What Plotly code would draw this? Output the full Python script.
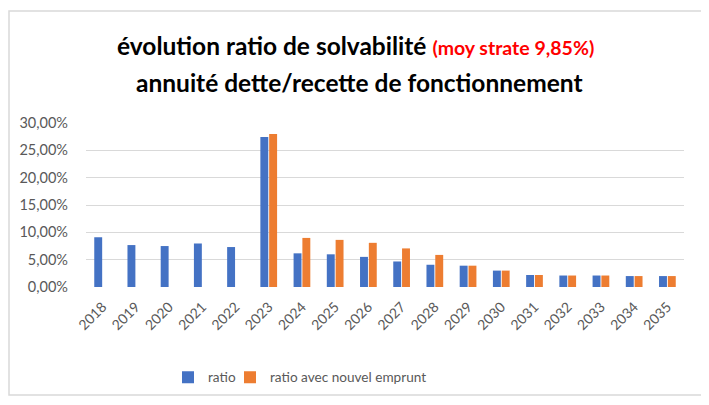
import plotly.graph_objects as go

years = [str(y) for y in range(2018, 2036)]
ratio = [0.091, 0.0767, 0.0749, 0.0796, 0.0731, 0.2743, 0.0616, 0.0598, 0.0551, 0.0467,
         0.0407, 0.039, 0.030, 0.022, 0.021, 0.021, 0.020, 0.020]
ratio_emprunt = [None, None, None, None, None, 0.280, 0.0898, 0.0862, 0.0808, 0.0706,
                 0.0587, 0.039, 0.030, 0.022, 0.021, 0.021, 0.020, 0.020]
tick_vals = [0, 0.05, 0.10, 0.15, 0.20, 0.25, 0.30]

BLUE = "#4472C4"
ORANGE = "#ED7D31"
GREY = "#595959"
FONT = "Lato"

# page offset of the figure (body margin) and helpers from page pixels to paper coords
OFF = 8
PL, PR, PT, PB = 86, 684, 123, 290


def px(xp):
    return (xp - PL) / (PR - PL)


def py(yp):
    return (PB - yp) / (PB - PT)


fig = go.Figure()
fig.add_trace(go.Bar(x=years, y=ratio, name="ratio", legend="legend",
                     marker=dict(color=BLUE, line=dict(width=0))))
fig.add_trace(go.Bar(x=years, y=ratio_emprunt, name="ratio avec nouvel emprunt", legend="legend2",
                     marker=dict(color=ORANGE, line=dict(width=0))))

legend_style = dict(orientation="h", y=py(382), xanchor="left", yanchor="middle",
                    font=dict(size=13.6, color=GREY, family=FONT), itemwidth=30,
                    bgcolor="rgba(0,0,0,0)")

fig.update_layout(
    width=709 - OFF, height=405 - OFF,
    margin=dict(l=PL - OFF, r=709 - PR, t=PT - OFF, b=405 - PB),
    paper_bgcolor="white", plot_bgcolor="white",
    separators=",.",
    barmode="group", bargap=0.47, bargroupgap=0.1,
    font=dict(family=FONT, color=GREY, size=13),
    showlegend=True,
    legend=dict(x=px(168), **legend_style),
    legend2=dict(x=px(230), **legend_style),
    xaxis=dict(tickangle=-45, showgrid=False, showline=False, ticks="",
               tickfont=dict(size=14, color=GREY, family=FONT), ticklabelstandoff=8),
    yaxis=dict(range=[0, 0.30], tickvals=tick_vals, tickformat=".2%",
               showgrid=True, gridcolor="#D9D9D9", gridwidth=1, zeroline=False,
               showline=False, ticks="", tickfont=dict(size=14.5, color=GREY, family=FONT),
               ticklabelstandoff=17),
)

# Title as two centered lines
fig.add_annotation(xref="paper", yref="paper", x=px(355.5), y=py(44),
                   xanchor="center", yanchor="middle", showarrow=False,
                   text="<b>évolution ratio de solvabilité </b><span style='color:#FF0000;font-size:19.5px'><b>(moy strate 9,85%)</b></span>",
                   font=dict(size=24.5, color="black", family=FONT))
fig.add_annotation(xref="paper", yref="paper", x=px(359), y=py(82),
                   xanchor="center", yanchor="middle", showarrow=False,
                   text="<b>annuité dette/recette de fonctionnement</b>",
                   font=dict(size=24.5, color="black", family=FONT))

# Chart frame border
fig.add_shape(type="rect", xref="paper", yref="paper",
              x0=px(9), x1=px(702), y0=py(400), y1=py(9),
              line=dict(color="#D9D9D9", width=1.5), fillcolor="rgba(0,0,0,0)", layer="below")

fig.write_html("out.html")
